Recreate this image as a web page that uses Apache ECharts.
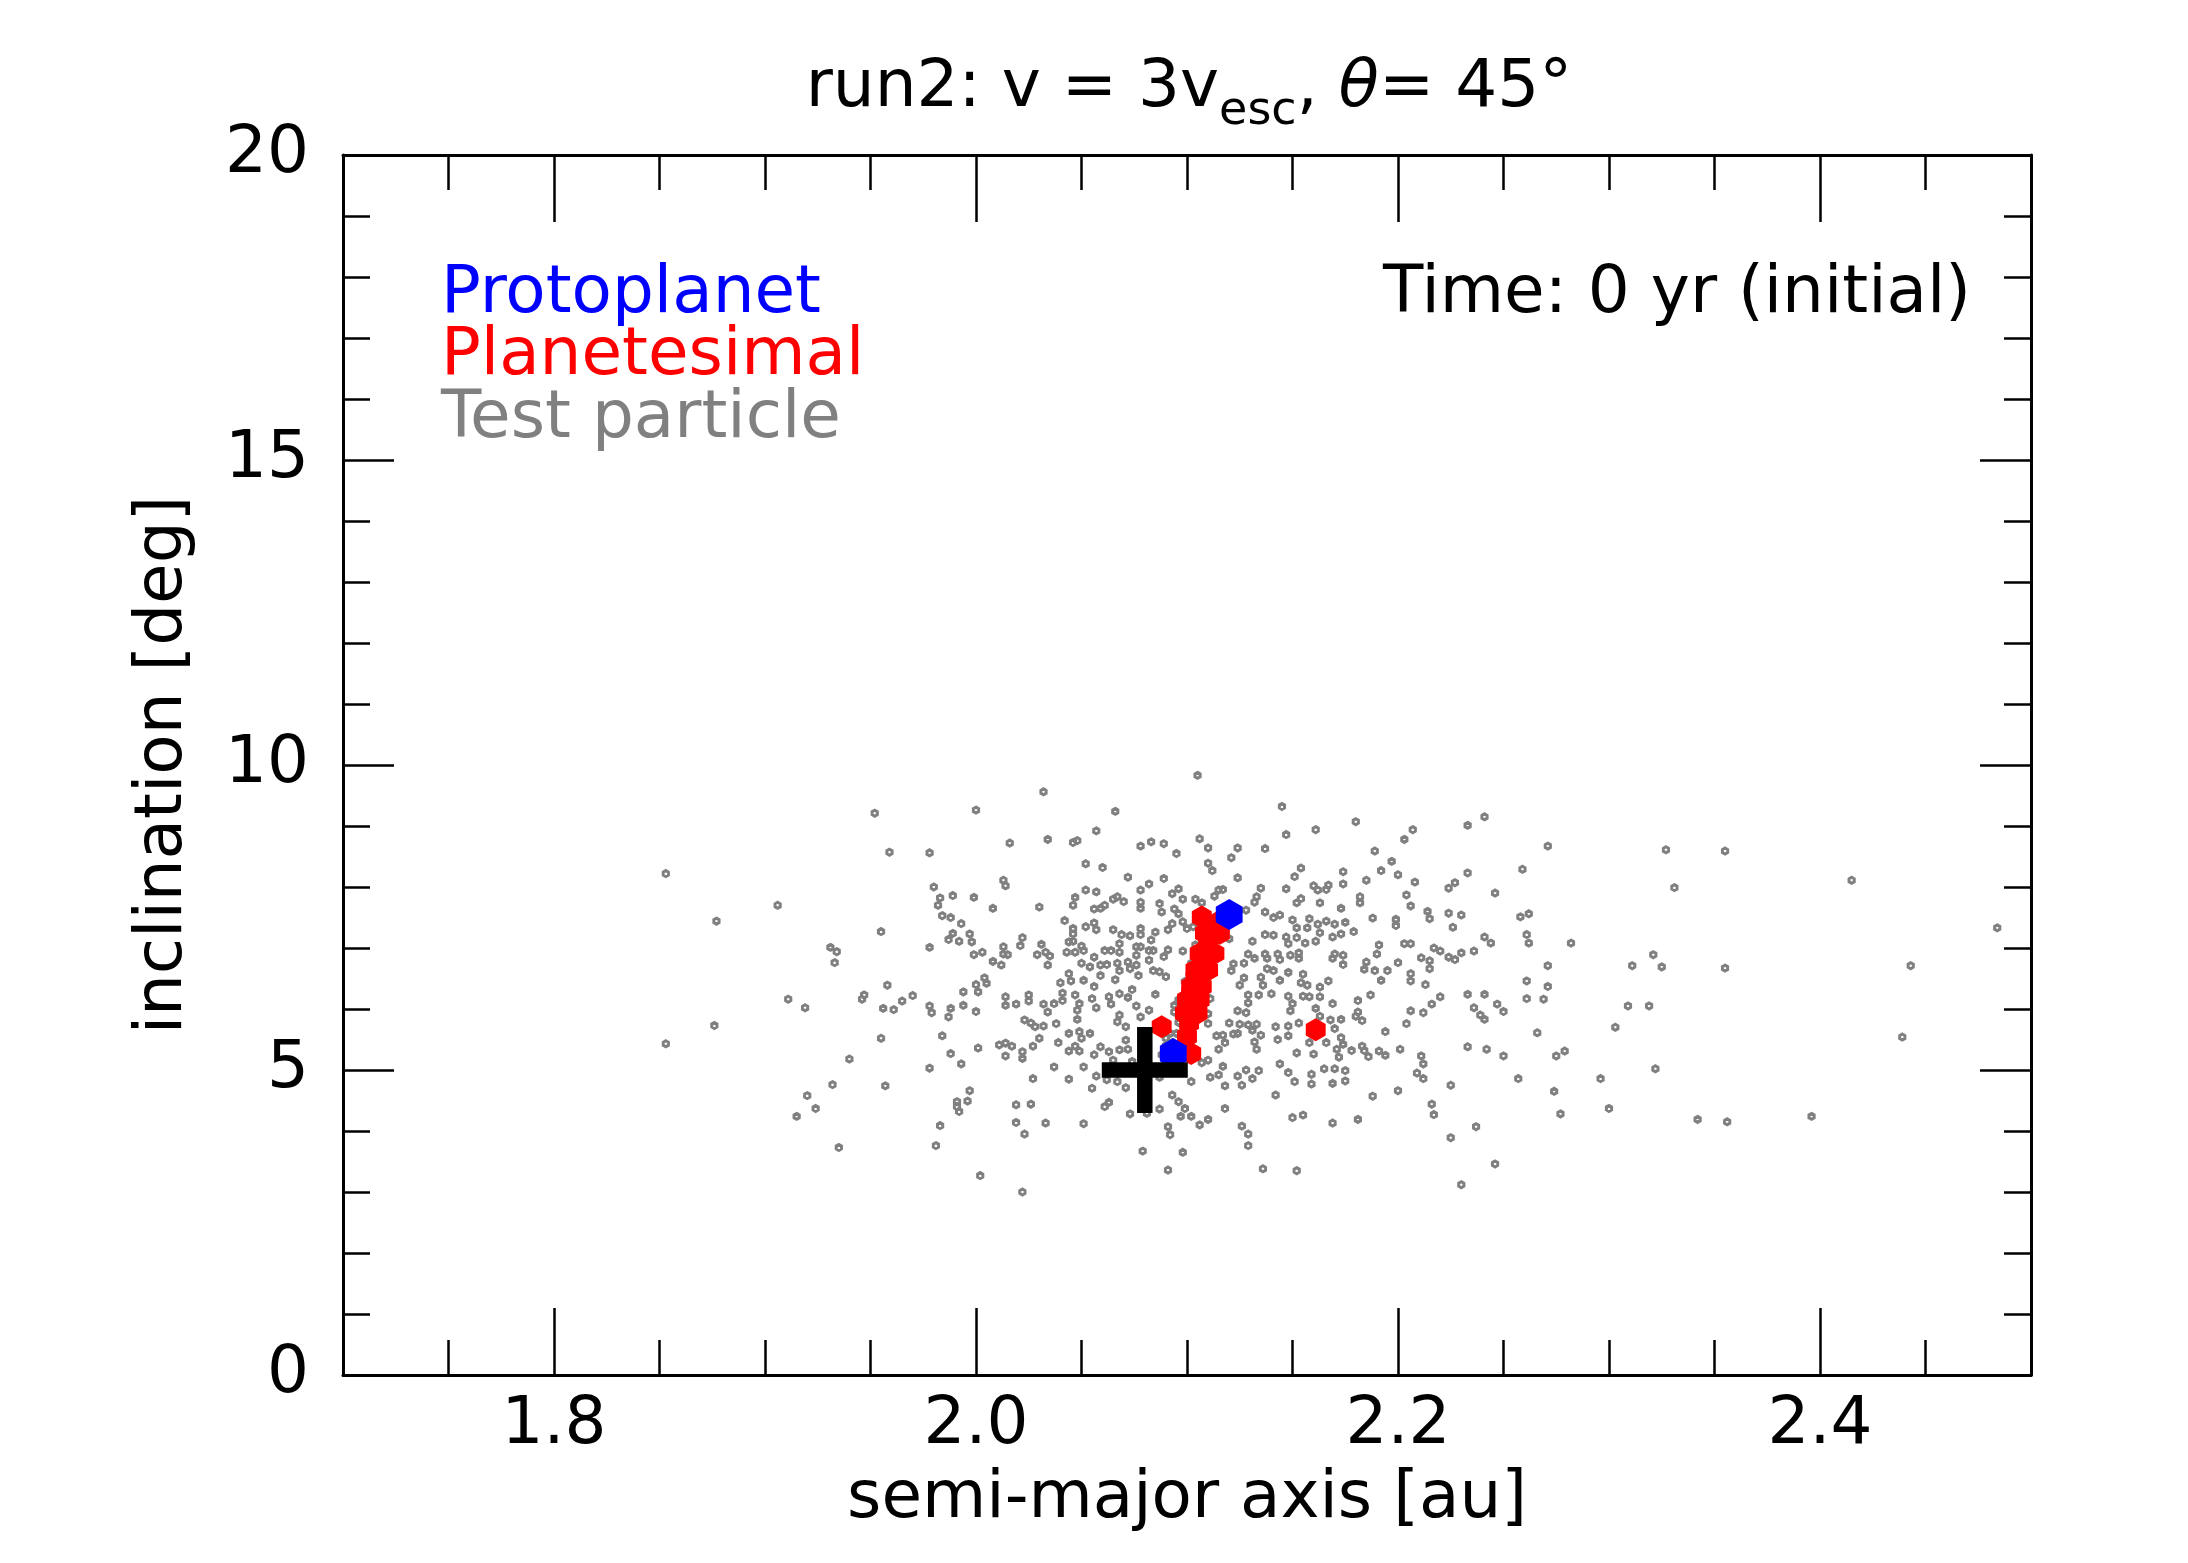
<!DOCTYPE html>
<html>
<head>
<meta charset="utf-8">
<title>run2 initial</title>
<script src="https://cdn.jsdelivr.net/npm/echarts@6/dist/echarts.min.js"></script>
<style>
  html, body { margin: 0; padding: 0; background: #fff; }
  #chart { width: 2188px; height: 1563px; }
</style>
</head>
<body>
<div id="chart"></div>
<script>
// axis ticks
const xMajorTicks = [1.8, 2.0, 2.2, 2.4];
const xMinorTicks = [1.75, 1.85, 1.9, 1.95, 2.05, 2.1, 2.15, 2.25, 2.3, 2.35, 2.45];

// [semi-major axis (au), inclination (deg)]
const testParticles = [
  [2.105,9.83],[2.032,9.56],[2.000,9.26],[2.066,9.24],[2.057,8.92],[2.016,8.72],[2.034,8.78],[2.046,8.73],[2.048,8.76],[1.959,8.57],
  [1.978,8.56],[2.078,8.67],[2.083,8.74],[2.089,8.71],[2.095,8.55],[2.106,8.79],[2.110,8.64],[2.052,8.38],[2.060,8.32],[2.110,8.39],
  [2.112,8.27],[2.072,8.16],[2.089,8.14],[2.013,8.11],[2.014,8.02],[1.980,8.00],[2.082,8.05],[2.052,7.95],[2.057,7.92],[2.078,7.95],
  [2.096,7.97],[2.093,7.89],[1.989,7.86],[1.999,7.83],[1.983,7.82],[1.982,7.70],[2.047,7.83],[2.046,7.70],[2.008,7.65],[2.030,7.67],
  [2.065,7.80],[2.067,7.84],[2.070,7.76],[2.078,7.75],[2.078,7.65],[2.056,7.64],[2.059,7.65],[2.061,7.70],[2.098,7.80],[2.104,7.80],
  [2.107,7.74],[2.087,7.73],[2.088,7.59],[2.094,7.64],[2.096,7.56],[1.984,7.53],[1.988,7.50],[1.993,7.40],[1.955,7.27],[2.042,7.45],
  [2.052,7.35],[2.056,7.41],[2.057,7.30],[2.046,7.32],[2.046,7.23],[2.065,7.30],[2.069,7.22],[2.073,7.20],[2.078,7.32],[2.078,7.22],
  [2.085,7.26],[2.091,7.30],[2.093,7.40],[2.098,7.43],[2.100,7.32],[1.989,7.24],[1.987,7.14],[1.992,7.11],[1.997,7.23],[1.998,7.10],
  [1.978,7.01],[2.013,7.02],[2.022,7.17],[2.021,7.04],[2.013,6.90],[2.015,6.89],[1.999,6.89],[2.003,6.93],[2.031,7.06],[2.029,6.89],
  [2.033,6.93],[2.035,6.87],[2.044,7.10],[2.046,7.11],[2.043,6.93],[2.047,6.93],[2.050,7.03],[2.051,6.96],[2.061,6.96],[2.064,6.96],
  [2.068,7.07],[2.068,6.93],[2.076,7.02],[2.078,7.02],[2.082,6.96],[2.083,7.13],[2.084,6.96],[2.076,6.88],[2.089,6.86],[2.091,6.97],
  [2.098,6.95],[2.008,6.78],[2.012,6.72],[2.034,6.72],[2.050,6.75],[2.054,6.69],[2.056,6.85],[2.059,6.72],[2.062,6.73],[2.067,6.75],
  [2.068,6.63],[2.072,6.77],[2.073,6.66],[2.076,6.72],[2.082,6.80],[2.084,6.63],[2.087,6.61],[2.090,6.53],[2.004,6.51],[2.000,6.40],
  [2.005,6.42],[1.958,6.39],[2.040,6.43],[2.044,6.58],[2.045,6.46],[2.051,6.47],[2.056,6.37],[2.059,6.55],[2.066,6.48],[2.077,6.55],
  [2.074,6.32],[2.115,7.95],[2.113,7.85],
  [2.145,9.32],[2.180,9.07],[2.241,9.15],[2.233,9.01],[2.207,8.94],[2.203,8.78],[2.161,8.94],[2.147,8.86],[2.271,8.67],[2.124,8.64],
  [2.137,8.63],[2.121,8.48],[2.189,8.59],[2.197,8.42],[2.192,8.27],[2.200,8.20],[2.154,8.31],[2.151,8.17],[2.174,8.25],[2.185,8.11],
  [2.208,8.08],[2.233,8.23],[2.259,8.29],[2.124,8.15],[2.117,7.96],[2.135,7.98],[2.147,7.97],[2.160,8.02],[2.162,7.95],[2.167,8.03],
  [2.166,7.96],[2.174,8.05],[2.224,7.98],[2.227,8.07],[2.246,7.90],[2.204,7.87],[2.182,7.84],[2.182,7.74],[2.206,7.69],[2.133,7.84],
  [2.132,7.75],[2.152,7.74],[2.154,7.81],[2.163,7.74],[2.173,7.65],[2.214,7.60],[2.215,7.48],[2.224,7.57],[2.230,7.54],[2.258,7.51],
  [2.262,7.56],[2.128,7.62],[2.137,7.59],[2.141,7.50],[2.144,7.54],[2.150,7.46],[2.158,7.48],[2.166,7.44],[2.170,7.39],[2.175,7.42],
  [2.188,7.49],[2.199,7.47],[2.199,7.37],[2.226,7.34],[2.152,7.33],[2.157,7.33],[2.162,7.39],[2.179,7.27],[2.137,7.22],[2.141,7.21],
  [2.147,7.18],[2.152,7.17],[2.161,7.11],[2.163,7.25],[2.169,7.18],[2.173,7.23],[2.131,7.11],[2.120,7.15],[2.148,7.07],[2.156,7.08],
  [2.191,7.05],[2.190,6.90],[2.203,7.07],[2.206,7.07],[2.217,7.00],[2.220,6.95],[2.224,6.85],[2.227,6.81],[2.230,6.92],[2.236,6.95],
  [2.241,7.18],[2.244,7.08],[2.261,7.22],[2.262,7.08],[2.211,6.84],[2.215,6.79],[2.215,6.66],[2.200,6.76],[2.185,6.77],[2.184,6.65],
  [2.189,6.63],[2.195,6.63],[2.206,6.58],[2.206,6.46],[2.192,6.47],[2.174,6.73],[2.170,6.90],[2.174,6.88],[2.169,6.83],[2.129,6.90],
  [2.137,6.90],[2.138,6.83],[2.143,6.90],[2.144,6.81],[2.149,6.88],[2.153,6.92],[2.153,6.83],[2.122,6.74],[2.127,6.75],[2.132,6.83],
  [2.121,6.63],[2.138,6.66],[2.141,6.63],[2.148,6.60],[2.155,6.57],[2.135,6.52],[2.127,6.51],[2.144,6.47],[2.167,6.46],[2.125,6.39],
  [2.136,6.39],[2.154,6.43],[2.157,6.39],[2.163,6.36],[2.261,6.46],[2.271,6.37],[2.213,6.40],
  [1.970,6.22],[1.965,6.13],[1.956,6.01],[1.961,5.99],[1.978,6.05],[1.979,5.94],[1.988,6.01],[1.987,5.87],[1.994,6.06],[2.000,5.96],
  [1.994,6.28],[2.001,6.28],[2.014,6.20],[2.014,6.06],[2.019,6.08],[2.025,6.23],[2.025,6.13],[2.032,6.08],[2.034,5.95],[2.037,6.09],
  [2.041,6.14],[2.041,6.26],[2.047,6.23],[2.049,6.09],[2.048,5.98],[2.048,5.83],[2.055,6.17],[2.057,6.02],[2.063,6.20],[2.064,6.08],
  [2.068,6.25],[2.072,6.19],[2.076,6.05],[2.068,5.90],[2.067,5.79],[2.071,5.71],[2.078,5.87],[2.082,5.98],[2.085,6.24],[2.094,6.06],
  [2.111,6.17],[2.110,5.76],[2.110,5.92],[2.023,5.82],[2.026,5.77],[2.028,5.71],[2.032,5.72],[2.038,5.76],[2.044,5.60],[2.049,5.63],
  [2.054,5.60],[2.050,5.52],[1.984,5.56],[1.955,5.52],[2.011,5.41],[2.014,5.44],[2.017,5.39],[2.014,5.23],[2.001,5.36],[1.988,5.27],
  [1.993,5.10],[1.978,5.03],[2.022,5.30],[2.022,5.19],[2.027,5.39],[2.030,5.52],[2.039,5.45],[2.044,5.31],[2.047,5.39],[2.049,5.31],
  [2.056,5.25],[2.059,5.38],[2.063,5.30],[2.068,5.33],[2.071,5.49],[2.072,5.34],[2.037,5.05],[2.051,5.05],[2.044,4.85],[2.027,4.86],
  [2.057,4.90],[2.062,4.84],[2.067,4.81],[2.071,4.71],[2.055,4.70],[2.065,5.16],[2.074,5.14],[1.957,4.74],[1.997,4.66],[1.996,4.49],
  [1.991,4.48],[1.991,4.40],[1.992,4.32],[2.019,4.43],[2.026,4.44],[2.061,4.40],[2.063,4.47],[1.983,4.09],[2.019,4.14],[2.023,3.95],
  [2.033,4.13],[2.051,4.12],[2.073,4.28],[2.081,4.29],[2.087,4.36],[2.093,4.59],[2.096,4.48],[2.099,4.37],[2.097,4.24],[2.102,4.24],
  [2.106,4.10],[2.110,4.19],[2.091,4.07],[2.092,3.94],[1.981,3.76],[2.079,3.67],[2.098,3.65],[2.091,3.36],[2.002,3.27],[2.022,3.00],
  [2.102,4.81],[2.111,4.88],[2.115,4.92],[2.107,5.12],[2.110,5.16],[2.115,5.34],[2.114,5.56],[2.087,4.88],
  [2.095,5.60],[2.093,5.45],[2.096,5.78],[2.094,5.95],[2.096,6.15],[2.099,6.45],[2.102,6.75],[2.104,7.05],[2.103,7.35],[2.090,5.40],
  [2.088,5.25],[2.092,5.60],[2.090,5.52],
  [2.129,6.23],[2.134,6.23],[2.140,6.25],[2.148,6.21],[2.150,6.09],[2.149,5.97],[2.155,6.21],[2.158,6.20],[2.163,6.20],[2.161,6.01],
  [2.169,6.09],[2.163,5.88],[2.168,5.82],[2.173,5.83],[2.170,5.68],[2.181,6.14],[2.187,6.23],[2.180,5.88],[2.183,5.81],[2.181,5.95],
  [2.124,5.97],[2.128,5.94],[2.129,6.10],[2.120,5.77],[2.125,5.75],[2.129,5.74],[2.133,5.75],[2.142,5.71],[2.148,5.72],[2.153,5.77],
  [2.117,5.57],[2.122,5.59],[2.124,5.60],[2.131,5.65],[2.135,5.57],[2.132,5.46],[2.118,5.45],[2.143,5.50],[2.148,5.56],[2.158,5.45],
  [2.166,5.45],[2.173,5.53],[2.174,5.42],[2.133,5.34],[2.152,5.28],[2.160,5.26],[2.171,5.34],[2.172,5.21],[2.178,5.32],[2.183,5.39],
  [2.184,5.32],[2.186,5.22],[2.191,5.31],[2.194,5.24],[2.201,5.34],[2.194,5.63],[2.204,5.76],[2.206,5.97],[2.212,5.94],[2.216,6.08],
  [2.220,6.20],[2.233,6.24],[2.241,6.24],[2.236,6.02],[2.239,5.90],[2.241,5.83],[2.247,6.08],[2.250,5.96],[2.261,6.17],[2.269,6.16],
  [2.266,5.61],[2.233,5.38],[2.242,5.34],[2.250,5.23],[2.275,5.23],[2.211,5.23],[2.212,5.10],[2.209,4.95],[2.212,4.86],[2.225,4.75],
  [2.257,4.86],[2.274,4.65],[2.200,4.66],[2.188,4.57],[2.216,4.44],[2.217,4.27],[2.237,4.07],[2.225,3.89],[2.246,3.46],[2.230,3.12],
  [2.181,4.19],[2.169,4.13],[2.150,4.22],[2.155,4.26],[2.126,4.08],[2.129,3.95],[2.129,3.76],[2.136,3.38],[2.152,3.35],[2.142,4.59],
  [2.118,4.37],[2.117,5.06],[2.124,4.90],[2.128,5.00],[2.131,4.86],[2.134,4.99],[2.118,4.74],[2.126,4.75],[2.144,5.10],[2.148,4.96],
  [2.151,4.81],[2.159,4.77],[2.159,4.93],[2.165,5.02],[2.169,4.78],[2.170,5.02],[2.175,4.99],[2.175,4.82],
  [1.853,8.22],[1.853,5.43],[1.877,7.44],[1.876,5.73],[1.906,7.70],[1.911,6.16],[1.919,6.02],[1.915,4.24],[1.924,4.37],[1.920,4.58],
  [1.935,3.73],[1.931,7.01],[1.934,6.94],[1.933,6.76],[1.932,4.76],[1.940,5.18],[1.947,6.23],[1.946,6.16],[1.952,9.21],
  [2.282,7.08],[2.279,5.31],[2.277,4.28],[2.296,4.86],[2.300,4.37],[2.303,5.70],[2.311,6.71],[2.309,6.05],[2.319,6.05],[2.321,6.89],
  [2.325,6.69],[2.322,5.02],[2.327,8.61],[2.331,7.99],[2.342,4.19],[2.355,8.59],[2.355,6.67],[2.356,4.15],[2.396,4.24],[2.415,8.11],
  [2.439,5.54],[2.443,6.71],[2.484,7.33],[2.271,6.71]
];

const planetesimals = [
  [2.107,7.51],[2.115,7.43],[2.1085,7.24],[2.1156,7.24],[2.110,7.08],[2.106,6.91],[2.113,6.91],[2.1075,6.78],
  [2.104,6.64],[2.110,6.64],[2.104,6.50],[2.102,6.37],[2.107,6.37],[2.102,6.26],[2.100,6.15],[2.106,6.15],
  [2.101,6.04],[2.099,5.93],[2.105,5.93],[2.101,5.77],[2.100,5.55],[2.102,5.27],
  [2.088,5.71],[2.161,5.66]
];

const protoplanets = [[2.120, 7.55], [2.0935, 5.27]];

const impactPoint = [[2.08, 5.0]];

const FONT = 'DejaVu Sans';
const HEX = 'path://M0,-50 L43.3,-25 L43.3,25 L0,50 L-43.3,25 L-43.3,-25 Z';
const PLUS = 'path://M41,0 H59 V41 H100 V59 H59 V100 H41 V59 H0 V41 H41 Z';

const chart = echarts.init(document.getElementById('chart'), null, {
  renderer: 'canvas', width: 2188, height: 1563
});

function xAxisDef(position, ticks, len, main, showLine) {
  return {
    type: 'value', min: 1.7, max: 2.5, position: position,
    axisLine: { show: showLine, lineStyle: { color: '#000', width: 3 } },
    axisTick: { show: true, inside: true, length: len, customValues: ticks,
      lineStyle: { color: '#000', width: 2.5 } },
    axisLabel: main ? {
      show: true, customValues: xMajorTicks, margin: 18,
      formatter: v => Number(v).toFixed(1),
      color: '#000', fontSize: 66, fontFamily: FONT
    } : { show: false },
    splitLine: { show: false },
    name: main ? 'semi-major axis [au]' : '',
    nameLocation: 'middle', nameGap: 92,
    nameTextStyle: { color: '#000', fontSize: 66, fontFamily: FONT }
  };
}

function yAxisDef(position, main) {
  return {
    type: 'value', min: 0, max: 20, interval: 5, position: position,
    axisLine: { show: true, lineStyle: { color: '#000', width: 3 } },
    axisTick: { show: true, inside: true, length: 51, lineStyle: { color: '#000', width: 2.5 } },
    minorTick: { show: true, splitNumber: 5, length: 27, lineStyle: { color: '#000', width: 2.5 } },
    axisLabel: main ? { show: true, margin: 34, color: '#000', fontSize: 66, fontFamily: FONT } : { show: false },
    splitLine: { show: false },
    minorSplitLine: { show: false },
    name: main ? 'inclination [deg]' : '',
    nameLocation: 'middle', nameGap: 146, nameRotate: 90,
    nameTextStyle: { color: '#000', fontSize: 66, fontFamily: FONT }
  };
}

const option = {
  backgroundColor: '#fff',
  animation: false,
  grid: { left: 343, right: 157, top: 155, bottom: 188, containLabel: false },
  xAxis: [
    xAxisDef('bottom', xMajorTicks, 67, true, true),
    xAxisDef('bottom', xMinorTicks, 35, false, false),
    xAxisDef('top', xMajorTicks, 67, false, true),
    xAxisDef('top', xMinorTicks, 35, false, false)
  ],
  yAxis: [
    yAxisDef('left', true),
    yAxisDef('right', false)
  ],
  graphic: [
    {
      type: 'text', x: 1189, y: 56, z: 10,
      style: {
        text: '{a|run2: v = 3v}{s|esc}{a|, }{t|θ}{a|= 45°}',
        align: 'center', verticalAlign: 'top',
        rich: {
          a: { fontSize: 66, lineHeight: 76, fontFamily: FONT, fill: '#000', verticalAlign: 'top' },
          t: { fontSize: 66, lineHeight: 76, fontFamily: FONT, fontStyle: 'italic', fill: '#000', verticalAlign: 'top' },
          s: { fontSize: 46, lineHeight: 46, fontFamily: FONT, fill: '#000', verticalAlign: 'top', padding: [33, 0, 0, 0] }
        }
      }
    },
    { type: 'text', x: 441, y: 295, z: 10,
      style: { text: 'Protoplanet', fill: '#0000ff', fontSize: 66, fontFamily: FONT, verticalAlign: 'middle' } },
    { type: 'text', x: 441, y: 357, z: 10,
      style: { text: 'Planetesimal', fill: '#ff0000', fontSize: 66, fontFamily: FONT, verticalAlign: 'middle' } },
    { type: 'text', x: 441, y: 420, z: 10,
      style: { text: 'Test particle', fill: '#808080', fontSize: 66, fontFamily: FONT, verticalAlign: 'middle' } },
    { type: 'text', x: 1971, y: 295, z: 10,
      style: { text: 'Time: 0 yr (initial)', fill: '#000', fontSize: 66, fontFamily: FONT,
        align: 'right', verticalAlign: 'middle' } }
  ],
  series: [
    {
      name: 'Test particle', type: 'scatter', xAxisIndex: 0, yAxisIndex: 0,
      data: testParticles, symbol: HEX, symbolKeepAspect: true, symbolSize: 6,
      itemStyle: { color: 'rgba(0,0,0,0)', borderColor: '#808080', borderWidth: 3, opacity: 1 },
      emphasis: { disabled: true }, z: 2
    },
    {
      name: 'Planetesimal', type: 'scatter', xAxisIndex: 0, yAxisIndex: 0,
      data: planetesimals, symbol: HEX, symbolKeepAspect: true, symbolSize: 23,
      itemStyle: { color: '#ff0000', opacity: 1 },
      emphasis: { disabled: true }, z: 3
    },
    {
      name: 'Protoplanet', type: 'scatter', xAxisIndex: 0, yAxisIndex: 0,
      data: protoplanets, symbol: HEX, symbolKeepAspect: true, symbolSize: 31,
      itemStyle: { color: '#0000ff', opacity: 1 },
      emphasis: { disabled: true }, z: 4
    },
    {
      name: 'Impact', type: 'scatter', xAxisIndex: 0, yAxisIndex: 0,
      data: impactPoint, symbol: PLUS, symbolSize: 86,
      itemStyle: { color: '#000', opacity: 1 },
      emphasis: { disabled: true }, z: 5
    }
  ]
};

chart.setOption(option);
</script>
</body>
</html>
